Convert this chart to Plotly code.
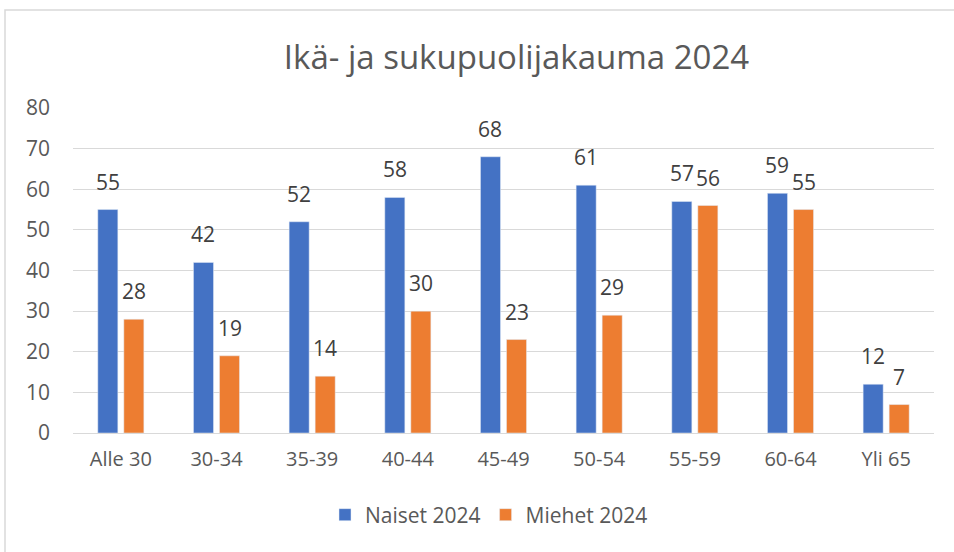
import plotly.graph_objects as go

categories = ["Alle 30", "30-34", "35-39", "40-44", "45-49", "50-54", "55-59", "60-64", "Yli 65"]
naiset = [55, 42, 52, 58, 68, 61, 57, 59, 12]
miehet = [28, 19, 14, 30, 23, 29, 56, 55, 7]
y_ticks = [0, 10, 20, 30, 40, 50, 60, 70, 80]

FONT = "Open Sans"
GRAY = "#595959"
LABEL = "#404040"

W, H = 954, 552
ml, mr, mt, mb = 73, 20, 108, 119
pw, ph = W - ml - mr, H - mt - mb
BARGAP, GROUPGAP = 0.456, 0.23
slot = pw / len(categories) * (1 - BARGAP) / 2
shift = slot / 2

fig = go.Figure()
fig.add_trace(go.Bar(name="Naiset 2024", x=categories, y=naiset, marker_color="#4472C4"))
fig.add_trace(go.Bar(name="Miehet 2024", x=categories, y=miehet, marker_color="#ED7D31"))

annotations = []
for vals, dx in ((naiset, -shift), (miehet, shift)):
    for c, v in zip(categories, vals):
        annotations.append(dict(x=c, y=v, xref="x", yref="y", text=str(v), showarrow=False,
                                xshift=dx, yshift=28, yanchor="middle", xanchor="center",
                                font=dict(family=FONT, size=21, color=LABEL)))

fig.update_layout(
    width=W, height=H,
    margin=dict(l=ml, r=mr, t=mt, b=mb),
    paper_bgcolor="white", plot_bgcolor="white",
    barmode="group", bargap=BARGAP, bargroupgap=GROUPGAP,
    title=dict(text="Ikä- ja sukupuolijakauma 2024", x=(283 + 750) / 2 / W, xanchor="center",
               y=1 - 57 / H, yanchor="middle",
               font=dict(family=FONT, size=33, color=GRAY)),
    font=dict(family=FONT, color=GRAY),
    xaxis=dict(showgrid=False, showline=True, linecolor="#d9d9d9", linewidth=1,
               ticks="", tickfont=dict(size=20, color=GRAY), ticklabelstandoff=8),
    yaxis=dict(range=[0, 80], tickvals=y_ticks, showgrid=True, gridcolor="#d9d9d9",
               zeroline=False, showline=False, tickfont=dict(size=21, color=GRAY),
               ticklabelstandoff=22),
    legend=dict(orientation="h", x=(489 - ml) / pw, xanchor="center",
                y=-(515 - (H - mb)) / ph, yanchor="middle",
                font=dict(size=21, color=GRAY), traceorder="normal", itemwidth=30),
    showlegend=True,
    annotations=annotations,
)

# chart-area border (cropped screenshot: top and left edges visible)
fig.add_shape(type="rect", xref="paper", yref="paper",
              x0=(5 - ml) / pw, x1=(W + 20 - ml) / pw,
              y0=-(H + 20 - (H - mb)) / ph, y1=((H - mb) - 10) / ph,
              line=dict(color="#d9d9d9", width=1.5), fillcolor="rgba(0,0,0,0)", layer="below")

fig.write_html("out.html", config={"displayModeBar": False},
               post_script="document.body.style.margin='0';document.body.style.overflow='hidden';")
